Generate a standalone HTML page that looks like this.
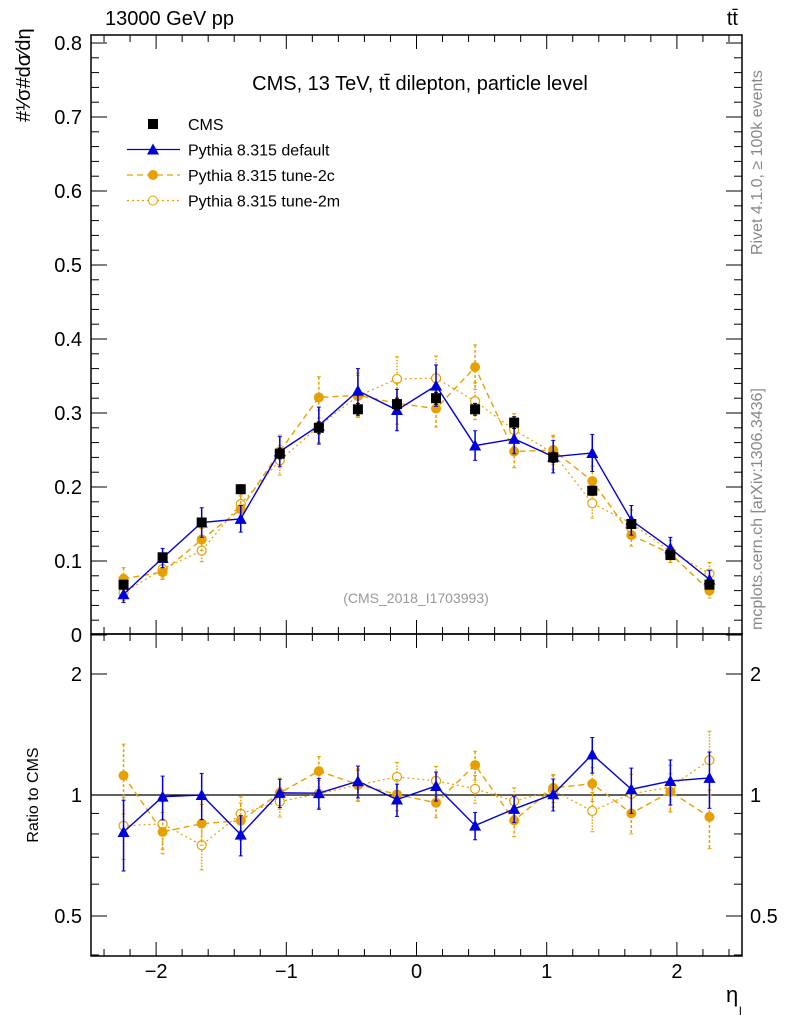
<!DOCTYPE html>
<html><head><meta charset="utf-8"><style>
body{margin:0;background:#fff}
svg{display:block;font-family:"Liberation Sans",sans-serif}
</style></head><body>
<svg id="c" width="786" height="1024" xmlns="http://www.w3.org/2000/svg"></svg>
<script>
const bins=[-2.25,-1.95,-1.65,-1.35,-1.05,-0.75,-0.45,-0.15,0.15,0.45,0.75,1.05,1.35,1.65,1.95,2.25];
const cms=[0.068,0.105,0.152,0.197,0.245,0.280,0.305,0.312,0.320,0.305,0.287,0.240,0.195,0.150,0.108,0.068];
const cmsErr=[0.004,0.005,0.006,0.006,0.007,0.008,0.008,0.008,0.008,0.008,0.008,0.007,0.006,0.006,0.005,0.004];
const def=[0.055,0.104,0.152,0.157,0.248,0.283,0.330,0.304,0.337,0.256,0.265,0.241,0.246,0.155,0.117,0.075];
const defErr=[0.011,0.013,0.020,0.018,0.020,0.025,0.030,0.028,0.028,0.020,0.020,0.022,0.025,0.020,0.015,0.012];
const t2c=[0.076,0.085,0.129,0.170,0.248,0.321,0.324,0.313,0.306,0.362,0.248,0.250,0.208,0.135,0.110,0.060];
const t2cErr=[0.015,0.010,0.015,0.018,0.022,0.028,0.030,0.028,0.025,0.030,0.022,0.020,0.020,0.015,0.012,0.010];
const t2m=[0.057,0.089,0.114,0.177,0.236,0.282,0.323,0.346,0.347,0.316,0.277,0.246,0.178,0.151,0.113,0.083];
const t2mErr=[0.010,0.012,0.015,0.018,0.020,0.022,0.028,0.030,0.030,0.025,0.022,0.022,0.020,0.018,0.015,0.015];
const xTicks=[-2,-1,0,1,2];
const xTickLabels=["\u22122","\u22121","0","1","2"];
const yTicks=[0,0.1,0.2,0.3,0.4,0.5,0.6,0.7,0.8];
const yTickLabels=["0","0.1","0.2","0.3","0.4","0.5","0.6","0.7","0.8"];
const rTicks=[0.5,1,2];
const rTickLabels=["0.5","1","2"];

const S=document.getElementById('c');const NS="http://www.w3.org/2000/svg";
function el(t,a,p){const e=document.createElementNS(NS,t);for(const k in a)e.setAttribute(k,a[k]);(p||S).appendChild(e);return e;}
const L=91,R=742,T=35,M=634,B=956;
const X=v=>L+(v+2.5)/5*(R-L);
const Y=v=>635-v*740;
const RY=v=>795-Math.log10(v)/Math.log10(2)*121;
const BLUE="#0000dd",ORG="#e8a000";

function frame(y0,y1,name){const f=el('rect',{x:L,y:y0,width:R-L,height:y1-y0,fill:'none',stroke:'#000','stroke-width':1.5});}
frame(T,M,'main-plot-frame');frame(M,B,'ratio-plot-frame');
for(let v=-2.4;v<=2.41;v+=0.2){const major=Math.abs(v-Math.round(v))<1e-6;const h=major?14:7;const x=X(v);
 for(const [a,b] of [[M,-1],[T,1],[B,-1],[M,1]]) el('line',{x1:x,x2:x,y1:a,y2:a+b*h,stroke:'#000'});}
xTicks.forEach((v,i)=>{const t=el('text',{x:X(v),y:978,'font-size':20,'text-anchor':'middle'});t.textContent=xTickLabels[i];});
for(let i=0;i<=40;i++){const v=i*0.02;const y=Y(v);if(y<T)continue;const h=i%5==0?16:8;
 el('line',{x1:L,x2:L+h,y1:y,y2:y,stroke:'#000'});el('line',{x1:R,x2:R-h,y1:y,y2:y,stroke:'#000'});}
yTicks.forEach((v,i)=>{const t=el('text',{x:82,y:Y(v)+7,'font-size':20,'text-anchor':'end'});t.textContent=yTickLabels[i];});
[0.4,0.5,0.6,0.7,0.8,0.9,1,2].forEach(v=>{const y=RY(v);const h=(v==0.5||v==1||v==2)?16:8;el('line',{x1:L,x2:L+h,y1:y,y2:y,stroke:'#000'});el('line',{x1:R,x2:R-h,y1:y,y2:y,stroke:'#000'});});
rTicks.forEach((v,i)=>{for(const [x,a] of [[82,'end'],[750,'start']]){const t=el('text',{x:x,y:RY(v)+7,'font-size':20,'text-anchor':a});t.textContent=rTickLabels[i];}});
el('line',{x1:L,x2:R,y1:RY(1),y2:RY(1),stroke:'#000','stroke-width':1.2});

function series(vals,errs,color,dash,marker,name,yf){
 const g=el('g',{});
 if(color){el('polyline',{points:vals.map((v,i)=>X(bins[i])+','+yf(v,i)).join(' '),fill:'none',stroke:color,'stroke-width':dash==='dot'?1.2:1.4,'stroke-dasharray':dash==='dash'?'6,4':dash==='dot'?'2,3':''},g);}
 vals.forEach((v,i)=>{const x=X(bins[i]);const y=yf(v,i);const e=errs[i];
  const y1=yf(v+e,i),y2=yf(Math.max(v-e,0.001),i);const c=color||'#000';
  el('line',{x1:x,x2:x,y1:y1,y2:y2,stroke:c,'stroke-width':1.5,'stroke-dasharray':dash==='dash'?'3,2':dash==='dot'?'1.5,1.5':''},g);
  el('line',{x1:x-2,x2:x+2,y1:y1,y2:y1,stroke:c},g);el('line',{x1:x-2,x2:x+2,y1:y2,y2:y2,stroke:c},g);
  let m;
  if(marker==='sq')m=el('rect',{x:x-5,y:y-5,width:10,height:10,fill:'#000'},g);
  else if(marker==='tri')m=el('polygon',{points:`${x},${y-6} ${x-6},${y+5} ${x+6},${y+5}`,fill:color},g);
  else if(marker==='dot')m=el('circle',{cx:x,cy:y,r:5,fill:color},g);
  else m=el('circle',{cx:x,cy:y,r:4.5,fill:'#fff',stroke:color,'stroke-width':1.2},g);
  
 });
}
series(t2m,t2mErr,ORG,'dot','open','tune-2m-series',v=>Y(v));
series(t2c,t2cErr,ORG,'dash','dot','tune-2c-series',v=>Y(v));
series(def,defErr,BLUE,'solid','tri','default-series',v=>Y(v));
series(cms,cmsErr,null,'solid','sq','cms-data',v=>Y(v));
const rat=(a)=>a.map((v,i)=>v/cms[i]);const ratE=(a)=>a.map((v,i)=>v/cms[i]);
series(rat(t2m),ratE(t2mErr),ORG,'dot','open','tune-2m-ratio',v=>RY(v));
series(rat(t2c),ratE(t2cErr),ORG,'dash','dot','tune-2c-ratio',v=>RY(v));
series(rat(def),ratE(defErr),BLUE,'solid','tri','default-ratio',v=>RY(v));

function txt(x,y,s,str,name,extra){const t=el('text',Object.assign({x:x,y:y,'font-size':s},extra||{}));t.textContent=str;return t;}
txt(105,25,20,'13000 GeV pp','header-process');
txt(738,25,20,'tt\u0304','header-tt',{'text-anchor':'end'});
txt(420,90,20,'CMS, 13 TeV, tt\u0304 dilepton, particle level','plot-title',{'text-anchor':'middle'});
txt(416,603,14,'(CMS_2018_I1703993)','analysis-id',{'text-anchor':'middle',fill:'#999'});
txt(0,0,16,'Rivet 4.1.0, \u2265 100k events','rivet-label',{fill:'#888',transform:'translate(762,255) rotate(-90)'});
txt(0,0,16,'mcplots.cern.ch [arXiv:1306.3436]','mcplots-label',{fill:'#888',transform:'translate(762,630) rotate(-90)'});
txt(0,0,16,'Ratio to CMS','ratio-y-title',{'text-anchor':'middle',transform:'translate(38,795) rotate(-90)'});
txt(0,0,20,'#\u00b9\u2044\u03c3#d\u03c3\u2044d\u03b7','y-axis-title',{'text-anchor':'start',transform:'translate(30,122) rotate(-90)'});
txt(726,1002,22,'\u03b7','x-axis-title');
txt(739,1015,12,'l','x-axis-sub');
const lg=[['CMS',null,'','sq'],['Pythia 8.315 default',BLUE,'','tri'],['Pythia 8.315 tune-2c',ORG,'6,4','dot'],['Pythia 8.315 tune-2m',ORG,'2,3','open']];
lg.forEach((d,i)=>{const y=124+i*25.5;const x=153;
 const g=el('g',{});
 if(d[1])el('line',{x1:127,x2:180,y1:y,y2:y,stroke:d[1],'stroke-width':1.3,'stroke-dasharray':d[2]},g);
 if(d[3]==='sq')el('rect',{x:x-5,y:y-5,width:10,height:10,fill:'#000'},g);
 else if(d[3]==='tri')el('polygon',{points:`${x},${y-6} ${x-6},${y+5} ${x+6},${y+5}`,fill:d[1]},g);
 else if(d[3]==='dot')el('circle',{cx:x,cy:y,r:5,fill:d[1]},g);
 else el('circle',{cx:x,cy:y,r:4.5,fill:'#fff',stroke:d[1]},g);
 const t=el('text',{x:188,y:y+6,'font-size':16},g);t.textContent=d[0];});
</script>
</body></html>
